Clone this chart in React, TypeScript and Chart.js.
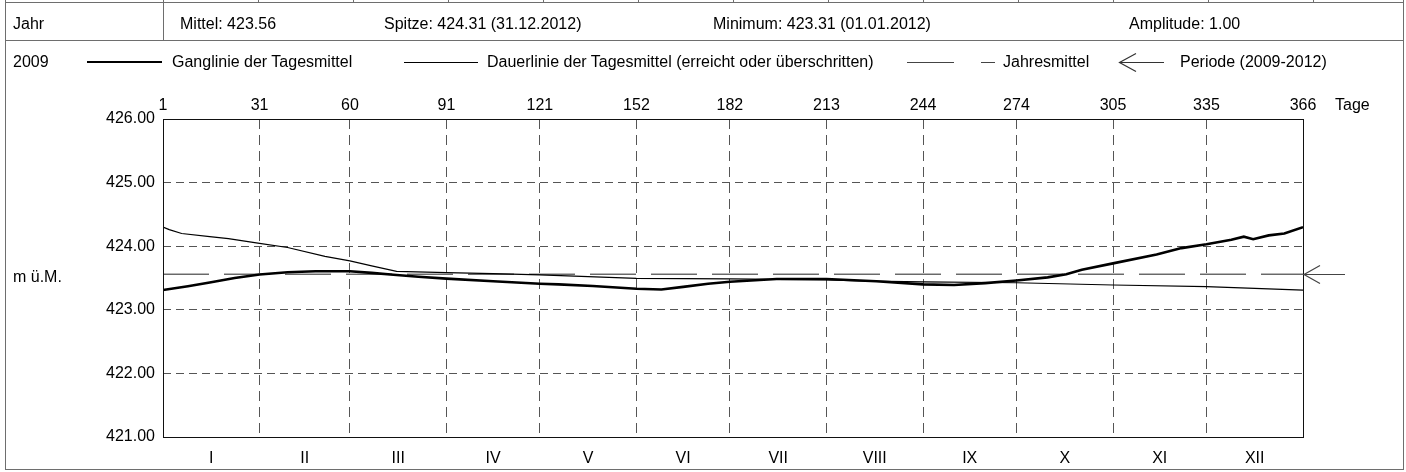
import React, { useEffect, useRef } from "react";
import { Chart, registerables } from "chart.js";

Chart.register(...registerables);

// ---- data ----
const dayTicks = [0, 31, 60, 91, 121, 152, 182, 213, 244, 274, 305, 335, 366];
const dayTickLabels = ["1", "31", "60", "91", "121", "152", "182", "213", "244", "274", "305", "335", "366"];
const monthLabels = ["I", "II", "III", "IV", "V", "VI", "VII", "VIII", "IX", "X", "XI", "XII"];
const yTicks = [421, 422, 423, 424, 425, 426];

const gangDays = [0, 8, 15, 23, 31, 40, 49, 60, 67, 74, 82, 91, 106, 121, 127, 138, 152, 160, 167, 175, 182, 197, 213, 229, 244, 254, 264, 274, 284, 290, 295, 305, 319, 327, 335, 343, 347, 350, 355, 360, 366];
const gangValues = [423.31, 423.37, 423.43, 423.5, 423.555, 423.59, 423.605, 423.605, 423.58, 423.55, 423.52, 423.49, 423.45, 423.41, 423.4, 423.375, 423.33, 423.32, 423.36, 423.41, 423.44, 423.485, 423.485, 423.45, 423.4, 423.39, 423.42, 423.46, 423.51, 423.56, 423.63, 423.73, 423.87, 423.97, 424.03, 424.1, 424.15, 424.11, 424.17, 424.2, 424.3];

const dauerDays = [0, 2, 6, 15, 21, 31, 40, 52, 60, 67, 75, 91, 106, 121, 152, 182, 213, 227, 244, 274, 305, 335, 366];
const dauerValues = [424.3, 424.26, 424.2, 424.15, 424.12, 424.045, 423.98, 423.84, 423.77, 423.69, 423.605, 423.585, 423.57, 423.55, 423.495, 423.485, 423.47, 423.45, 423.44, 423.425, 423.39, 423.365, 423.31];

const meanValue = 423.56;

const FONT = "'Liberation Sans', Arial, Helvetica, sans-serif";
const LINE = "#6e6e6e";

const topStripX = [163, 258, 353, 448, 543, 638, 733, 828, 923, 1018, 1113, 1208, 1313];

function Text({ x, cy, children }: { x: number; cy: number; children: React.ReactNode }) {
  return (
    <div
      style={{
        position: "absolute",
        left: x,
        top: cy - 10,
        lineHeight: "20px",
        fontSize: 16,
        fontFamily: FONT,
        color: "#000",
        whiteSpace: "nowrap",
      }}
    >
      {children}
    </div>
  );
}

function HLine({ x1, x2, y, h = 1, color = LINE }: { x1: number; x2: number; y: number; h?: number; color?: string }) {
  return <div style={{ position: "absolute", left: x1, top: y, width: x2 - x1, height: h, background: color }} />;
}

function VLine({ x, y1, y2, color = LINE }: { x: number; y1: number; y2: number; color?: string }) {
  return <div style={{ position: "absolute", left: x, top: y1, width: 1, height: y2 - y1, background: color }} />;
}

export default function App() {
  const ref = useRef<HTMLCanvasElement | null>(null);

  useEffect(() => {
    if (!ref.current) return;
    const monthMids = dayTicks.slice(0, -1).map((d, i) => (d + dayTicks[i + 1]) / 2);

    const framePlugin = {
      id: "frameAndArrow",
      afterDatasetsDraw(chart: any) {
        const { ctx, chartArea, scales } = chart;
        ctx.save();
        ctx.strokeStyle = "#111";
        ctx.lineWidth = 1;
        ctx.setLineDash([]);
        ctx.strokeRect(chartArea.left + 0.5, chartArea.top + 0.5, chartArea.right - chartArea.left, chartArea.bottom - chartArea.top);
        const y = Math.round(scales.y.getPixelForValue(meanValue)) + 0.5;
        const r = chartArea.right;
        ctx.strokeStyle = "#444";
        ctx.lineWidth = 1.2;
        ctx.beginPath();
        ctx.moveTo(r, y);
        ctx.lineTo(r + 42, y);
        ctx.moveTo(r + 17, y - 9);
        ctx.lineTo(r + 1, y);
        ctx.lineTo(r + 17, y + 9);
        ctx.stroke();
        ctx.restore();
      },
    };

    const chart = new Chart(ref.current, {
      type: "line",
      data: {
        datasets: [
          {
            label: "Ganglinie der Tagesmittel",
            data: gangDays.map((d, i) => ({ x: d, y: gangValues[i] })),
            borderColor: "#000",
            borderWidth: 2.6,
            pointRadius: 0,
            tension: 0,
            xAxisID: "x",
            yAxisID: "y",
          },
          {
            label: "Dauerlinie der Tagesmittel (erreicht oder überschritten)",
            data: dauerDays.map((d, i) => ({ x: d, y: dauerValues[i] })),
            borderColor: "#000",
            borderWidth: 1.2,
            pointRadius: 0,
            tension: 0,
            xAxisID: "x",
            yAxisID: "y",
          },
          {
            label: "Jahresmittel",
            data: [
              { x: dayTicks[0], y: meanValue },
              { x: dayTicks[dayTicks.length - 1], y: meanValue },
            ],
            borderColor: "#222",
            borderWidth: 1,
            borderDash: [46, 15],
            pointRadius: 0,
            xAxisID: "x",
            yAxisID: "y",
          },
        ],
      },
      options: {
        animation: false,
        responsive: false,
        maintainAspectRatio: false,
        devicePixelRatio: 1,
        layout: { padding: { left: 0, right: 103, top: 0, bottom: 0 } },
        plugins: { legend: { display: false }, tooltip: { enabled: false } },
        scales: {
          x: {
            type: "linear",
            position: "top",
            min: 0,
            max: 366,
            afterBuildTicks: (s: any) => {
              s.ticks = dayTicks.map((v) => ({ value: v }));
            },
            afterFit: (s: any) => {
              s.height = 119;
            },
            ticks: {
              autoSkip: false,
              maxRotation: 0,
              padding: 4,
              color: "#000",
              font: { size: 16, family: FONT },
              callback: (_v: any, i: number) => dayTickLabels[i],
            },
            grid: {
              drawTicks: false,
              lineWidth: 1,
              color: (c: any) => (c.index === 0 || c.index === dayTicks.length - 1 ? "rgba(0,0,0,0)" : "#555"),
            },
            border: { display: false, dash: [10, 6] },
          },
          xm: {
            type: "linear",
            position: "bottom",
            min: 0,
            max: 366,
            afterBuildTicks: (s: any) => {
              s.ticks = monthMids.map((v) => ({ value: v }));
            },
            afterFit: (s: any) => {
              s.height = 35;
            },
            ticks: {
              autoSkip: false,
              maxRotation: 0,
              padding: 4,
              color: "#000",
              font: { size: 16, family: FONT },
              callback: (_v: any, i: number) => monthLabels[i],
            },
            grid: { display: false },
            border: { display: false },
          },
          y: {
            type: "linear",
            position: "left",
            min: 421,
            max: 426,
            afterBuildTicks: (s: any) => {
              s.ticks = yTicks.map((v) => ({ value: v }));
            },
            afterFit: (s: any) => {
              s.width = 163;
            },
            ticks: {
              padding: 8,
              color: "#000",
              font: { size: 16, family: FONT },
              callback: (v: any) => Number(v).toFixed(2),
            },
            grid: {
              drawTicks: false,
              lineWidth: 1,
              color: (c: any) => (c.index === 0 || c.index === yTicks.length - 1 ? "rgba(0,0,0,0)" : "#555"),
            },
            border: { display: false, dash: [8, 5] },
          },
        },
      } as any,
      plugins: [framePlugin],
    });
    return () => chart.destroy();
  }, []);

  return (
    <div style={{ position: "absolute", left: 0, top: 0, width: 1406, height: 472, background: "#fff", overflow: "hidden" }}>
      <canvas ref={ref} width={1406} height={472} style={{ position: "absolute", left: 0, top: 0, width: 1406, height: 472 }} />
      {/* table frame */}
      <div
        style={{
          position: "absolute",
          left: 5,
          top: 2,
          width: 1399,
          height: 468,
          boxSizing: "border-box",
          border: `1px solid ${LINE}`,
        }}
      />
      {topStripX.map((x) => (
        <VLine key={x} x={x} y1={0} y2={3} />
      ))}
      <VLine x={5} y1={0} y2={3} />
      <VLine x={1403} y1={0} y2={3} />
      <HLine x1={5} x2={1404} y={40} />
      <VLine x={163} y1={2} y2={40} />

      <Text x={13} cy={24}>Jahr</Text>
      <Text x={180} cy={24}>Mittel: 423.56</Text>
      <Text x={384} cy={24}>Spitze: 424.31 (31.12.2012)</Text>
      <Text x={713} cy={24}>Minimum: 423.31 (01.01.2012)</Text>
      <Text x={1129} cy={24}>Amplitude: 1.00</Text>

      <Text x={13} cy={62}>2009</Text>
      <HLine x1={87} x2={162} y={61} h={2} color="#000" />
      <Text x={172} cy={62}>Ganglinie der Tagesmittel</Text>
      <HLine x1={404} x2={478} y={62} h={1} color="#000" />
      <Text x={487} cy={62}>Dauerlinie der Tagesmittel (erreicht oder überschritten)</Text>
      <HLine x1={907} x2={954} y={62} h={1} color="#444" />
      <HLine x1={981} x2={995} y={62} h={1} color="#444" />
      <Text x={1003} cy={62}>Jahresmittel</Text>
      <svg style={{ position: "absolute", left: 1115, top: 50 }} width={55} height={25}>
        <path d="M4.5 12.5 L49 12.5 M21 3.5 L4.5 12.5 L21 21.5" stroke="#333" strokeWidth={1.2} fill="none" />
      </svg>
      <Text x={1180} cy={62}>Periode (2009-2012)</Text>

      <Text x={1335} cy={105}>Tage</Text>
      <Text x={13} cy={277}>m ü.M.</Text>
    </div>
  );
}
